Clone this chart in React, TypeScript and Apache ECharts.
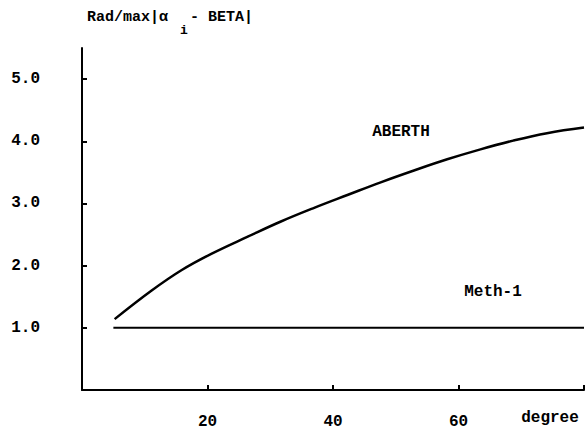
import React, { useEffect, useRef } from "react";
import * as echarts from "echarts";

const aberthX = [5.2, 11.1, 15.9, 20.6, 26.5, 31.7, 37, 42.4, 47.6, 52.9, 58.2, 63.5, 68.7, 74.1, 80];
const aberthY = [1.14, 1.6, 1.93, 2.19, 2.47, 2.71, 2.93, 3.14, 3.34, 3.53, 3.71, 3.87, 4.01, 4.13, 4.22];
const meth1X = [5, 80];
const meth1Y = [1.0, 1.0];
const xTicks = [20, 40, 60];
const yTicks = [1, 2, 3, 4, 5];

const FONT = "'Liberation Mono', 'DejaVu Sans Mono', monospace";

export default function App() {
  const ref = useRef<HTMLDivElement>(null);
  useEffect(() => {
    if (!ref.current) return;
    const chart = echarts.init(ref.current, undefined, { renderer: "svg" });
    const zip = (xs: number[], ys: number[]) => xs.map((x, i) => [x, ys[i]]);
    chart.setOption({
      animation: false,
      backgroundColor: "#fff",
      grid: { left: 82, right: 1, top: 48, bottom: 50 },
      xAxis: {
        type: "value",
        min: 0,
        max: 80,
        interval: 20,
        axisLine: { show: true, lineStyle: { color: "#000", width: 2 } },
        axisTick: { show: true, inside: true, length: 5, lineStyle: { color: "#000", width: 2 } },
        splitLine: { show: false },
        axisLabel: {
          margin: 24,
          color: "#000",
          fontFamily: FONT,
          fontWeight: "bold",
          fontSize: 16,
          formatter: (v: number) => (xTicks.includes(v) ? String(v) : ""),
        },
      },
      yAxis: {
        type: "value",
        min: 0,
        max: 5.5,
        interval: 1,
        axisLine: { show: true, lineStyle: { color: "#000", width: 2 } },
        axisTick: { show: true, inside: true, length: 5, lineStyle: { color: "#000", width: 2 } },
        splitLine: { show: false },
        axisLabel: {
          margin: 42,
          color: "#000",
          fontFamily: FONT,
          fontWeight: "bold",
          fontSize: 16,
          showMaxLabel: false,
          formatter: (v: number) => (yTicks.includes(v) ? v.toFixed(1) : ""),
        },
      },
      series: [
        {
          name: "ABERTH",
          type: "line",
          smooth: 0.4,
          showSymbol: false,
          data: zip(aberthX, aberthY),
          lineStyle: { color: "#000", width: 2.5 },
        },
        {
          name: "Meth-1",
          type: "line",
          showSymbol: false,
          data: zip(meth1X, meth1Y),
          lineStyle: { color: "#000", width: 2 },
        },
      ],
      graphic: [
        { type: "text", x: 87, y: 17, style: { text: "Rad/max|α", font: `bold 15px ${FONT}`, fill: "#000", verticalAlign: "middle" } },
        { type: "text", x: 180, y: 30, style: { text: "i", font: `bold 13px ${FONT}`, fill: "#000", verticalAlign: "middle" } },
        { type: "text", x: 190, y: 17, style: { text: "- BETA|", font: `bold 15px ${FONT}`, fill: "#000", verticalAlign: "middle" } },
        { type: "text", x: 401, y: 132, style: { text: "ABERTH", font: `bold 16px ${FONT}`, fill: "#000", align: "center", verticalAlign: "middle" } },
        { type: "text", x: 493, y: 292, style: { text: "Meth-1", font: `bold 16px ${FONT}`, fill: "#000", align: "center", verticalAlign: "middle" } },
        { type: "text", x: 550, y: 418, style: { text: "degree", font: `bold 16px ${FONT}`, fill: "#000", align: "center", verticalAlign: "middle" } },
      ],
    });
    return () => chart.dispose();
  }, []);
  return <div ref={ref} style={{ position: "absolute", left: 0, top: 0, width: 587, height: 440 }} />;
}
